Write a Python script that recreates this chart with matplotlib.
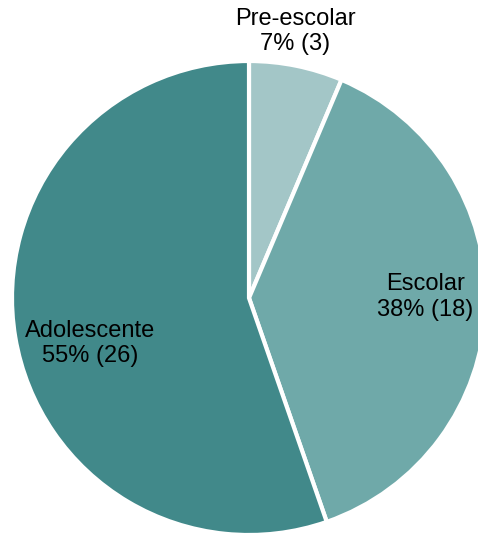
import matplotlib
matplotlib.use("Agg")
import matplotlib.pyplot as plt

categorias = ["Pre-escolar", "Escolar", "Adolescente"]
casos = [3, 18, 26]
colores = ["#a3c6c7", "#6fa9a9", "#41898a"]

plt.rcParams['font.family'] = ['Liberation Sans', 'DejaVu Sans']

fig = plt.figure(figsize=(4.78, 5.38), dpi=100)
ax = fig.add_axes([0, 0, 1, 1])

ax.pie(casos, colors=colores, startangle=90, counterclock=False,
       radius=1.0, wedgeprops=dict(edgecolor="white", linewidth=3))

# porcentajes enteros que suman 100 (metodo del mayor resto)
total = sum(casos)
exactos = [100 * n / total for n in casos]
pcts = [int(p) for p in exactos]
faltan = 100 - sum(pcts)
orden = sorted(range(len(casos)), key=lambda i: exactos[i] - pcts[i], reverse=True)
for i in orden[:faltan]:
    pcts[i] += 1

# posiciones de las etiquetas (centro del texto, en unidades del radio)
pos_etiquetas = [(0.195, 1.124), (0.745, 0.004), (-0.67, -0.192)]
for nombre, n, pct, (x, y) in zip(categorias, casos, pcts, pos_etiquetas):
    ax.text(x, y, f"{nombre}\n{pct}% ({n})", ha="center", va="center",
            fontsize=17, linespacing=1.22, color="black")

ax.set_xlim(-249 / 237, (478 - 249) / 237)
ax.set_ylim(-240 / 237, 298 / 237)
ax.set_aspect("auto")
ax.axis("off")

fig.savefig("out.png", dpi=100)
